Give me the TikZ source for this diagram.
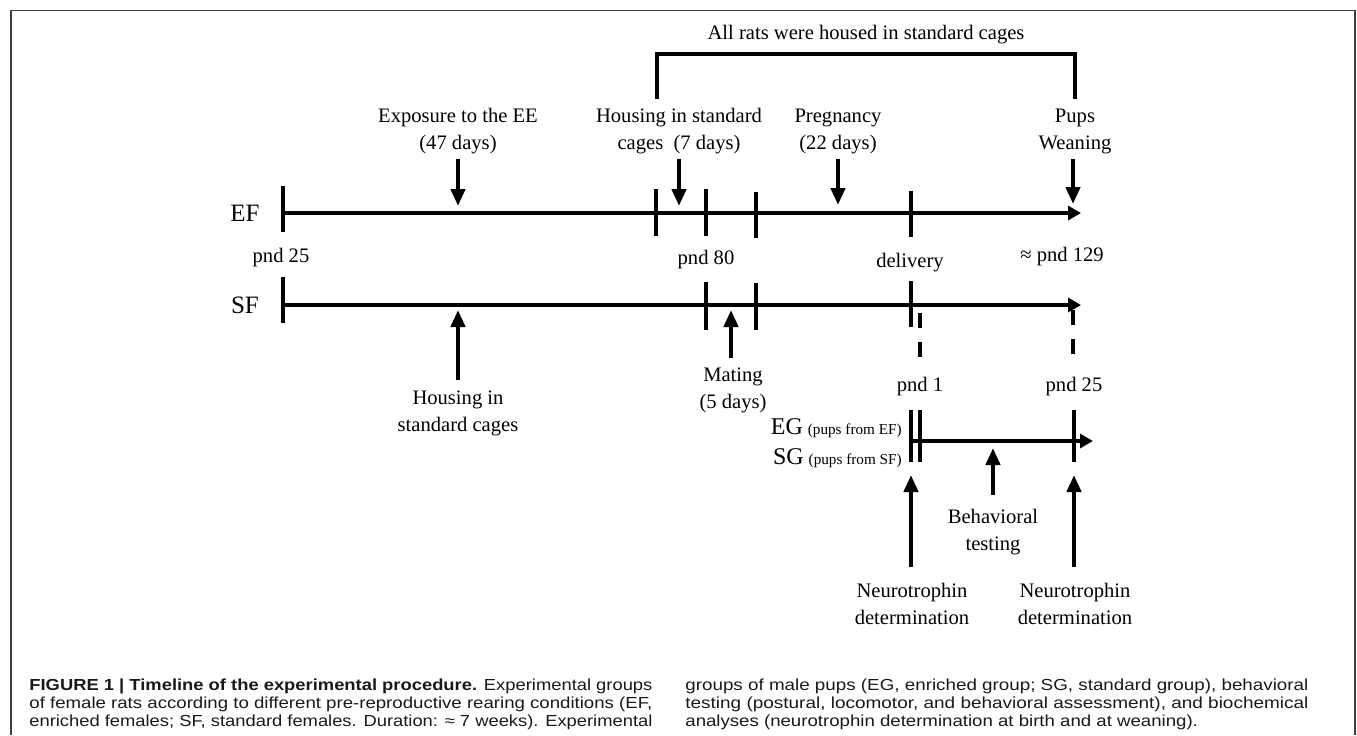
\documentclass[tikz,border=0pt]{standalone}
\usepackage{fontspec}
\usepackage{graphicx}
\setmainfont{Liberation Serif}
\newfontfamily\capfont{Liberation Sans}
\usetikzlibrary{arrows.meta}
\newlength\capwidthref
\newcommand\capsize{\capfont\fontsize{8}{9}\selectfont}
\begin{document}
\settowidth\capwidthref{\capsize of female rats according to different pre-reproductive rearing conditions (EF,}
\begin{tikzpicture}[x=0.5pt,y=-0.5pt,
  lbl/.style={font=\fontsize{10.3}{13.5}\selectfont, align=center, inner sep=0},
  biglbl/.style={font=\fontsize{12.5}{13.5}\selectfont, inner sep=0},
  tl/.style={line width=2.4pt, -{Triangle[length=6.5pt,width=7pt]}},
  tk/.style={line width=2.4pt},
  ev/.style={line width=2.1pt, -{Triangle[length=8.5pt,width=7pt]}},
  dsh/.style={line width=2.4pt, dash pattern=on 7.5pt off 7pt},
  frm/.style={draw=black!75, line width=0.8pt},
  captxt/.style={font=\capsize, inner sep=0, anchor=base west, text=black!90}]
\pgfmathsetmacro\capsc{311.5pt/\capwidthref}
\useasboundingbox (0,0) rectangle (1357,735);
% frame
\coordinate (fl) at (11,735); \coordinate (ftl) at (11,10.5);
\coordinate (ftr) at (1355,10.5); \coordinate (fr) at (1355,735);
\draw[frm] (fl) -- (ftl) -- (ftr) -- (fr);
% bracket
\coordinate (bl) at (657,99); \coordinate (btl) at (657,54);
\coordinate (btr) at (1075,54); \coordinate (br) at (1075,99);
\draw[line width=2.1pt] (bl) -- (btl) -- (btr) -- (br);
\node[lbl] (allrats) at (866,35) {All rats were housed in standard cages};
% labels above EF
\node[lbl] (expo) at (458,131.5) {Exposure to the EE\\(47 days)};
\node[lbl] (hous) at (679,131.5) {Housing in standard\\cages\ \ (7 days)};
\node[lbl] (preg) at (838,131.5) {Pregnancy\\(22 days)};
\node[lbl] (pups) at (1075,131.5) {Pups\\Weaning};
\coordinate (a1s) at (458,159); \coordinate (a1e) at (458,206);
\coordinate (a2s) at (679,159); \coordinate (a2e) at (679,206);
\coordinate (a3s) at (838,159); \coordinate (a3e) at (838,205);
\coordinate (a4s) at (1073,159); \coordinate (a4e) at (1073,204);
\draw[ev] (a1s) -- (a1e);
\draw[ev] (a2s) -- (a2e);
\draw[ev] (a3s) -- (a3e);
\draw[ev] (a4s) -- (a4e);
% EF timeline
\node[biglbl] (EF) at (245,213) {EF};
\coordinate (efs) at (283,213); \coordinate (efe) at (1081,213);
\draw[tl] (efs) -- (efe);
\coordinate (e1t) at (283,186); \coordinate (e1b) at (283,232);
\coordinate (e2t) at (656,189); \coordinate (e2b) at (656,236);
\coordinate (e3t) at (706,189); \coordinate (e3b) at (706,236);
\coordinate (e4t) at (756,192); \coordinate (e4b) at (756,238);
\coordinate (e5t) at (911,191); \coordinate (e5b) at (911,237);
\foreach \n in {1,...,5} {\draw[tk] (e\n t) -- (e\n b);}
% middle labels
\node[lbl] (p25) at (281,258) {pnd 25};
\node[lbl] (p80) at (706,260) {pnd 80};
\node[lbl] (deliv) at (910,263) {delivery};
\node[lbl] (p129) at (1062,257) {≈ pnd 129};
% SF timeline
\node[biglbl] (SF) at (245,305) {SF};
\coordinate (sfs) at (283,305); \coordinate (sfe) at (1081,305);
\draw[tl] (sfs) -- (sfe);
\coordinate (s1t) at (283,277); \coordinate (s1b) at (283,323);
\coordinate (s2t) at (706,282); \coordinate (s2b) at (706,330);
\coordinate (s3t) at (756,283); \coordinate (s3b) at (756,330);
\coordinate (s4t) at (911,281); \coordinate (s4b) at (911,327);
\foreach \n in {1,...,4} {\draw[tk] (s\n t) -- (s\n b);}
% labels below SF
\coordinate (b1s) at (458,380); \coordinate (b1e) at (458,310);
\coordinate (b2s) at (731,358); \coordinate (b2e) at (731,310);
\draw[ev] (b1s) -- (b1e);
\draw[ev] (b2s) -- (b2e);
\node[lbl] (housSF) at (458,413) {Housing in\\standard cages};
\node[lbl] (mating) at (733,390) {Mating\\(5 days)};
% dashed links
\coordinate (d1s) at (920,313); \coordinate (d1e) at (920,358);
\coordinate (d2s) at (1073,310); \coordinate (d2e) at (1073,356);
\draw[dsh] (d1s) -- (d1e);
\draw[dsh] (d2s) -- (d2e);
\node[lbl] (pnd1) at (920,387) {pnd 1};
\node[lbl] (pnd25b) at (1074,387) {pnd 25};
% pups timeline
\node[inner sep=0, anchor=east] (EG) at (902,428) {{\fontsize{12}{12}\selectfont EG} {\fontsize{7.6}{9}\selectfont (pups from EF)}};
\node[inner sep=0, anchor=east] (SG) at (902,458) {{\fontsize{12}{12}\selectfont SG} {\fontsize{7.6}{9}\selectfont (pups from SF)}};
\coordinate (pls) at (911,441); \coordinate (ple) at (1093,441);
\draw[tl] (pls) -- (ple);
\coordinate (g1t) at (911,410); \coordinate (g1b) at (911,462);
\coordinate (g2t) at (920,410); \coordinate (g2b) at (920,462);
\coordinate (g3t) at (1074,410); \coordinate (g3b) at (1074,462);
\foreach \n in {1,...,3} {\draw[tk] (g\n t) -- (g\n b);}
% arrows below pups
\coordinate (c1s) at (993,495); \coordinate (c1e) at (993,448);
\coordinate (c2s) at (911,567); \coordinate (c2e) at (911,475);
\coordinate (c3s) at (1074,567); \coordinate (c3e) at (1074,475);
\draw[ev] (c1s) -- (c1e);
\draw[ev] (c2s) -- (c2e);
\draw[ev] (c3s) -- (c3e);
\node[lbl] (behav) at (993,532) {Behavioral\\testing};
\node[lbl] (neu1) at (912,603.5) {Neurotrophin\\determination};
\node[lbl] (neu2) at (1075,603.5) {Neurotrophin\\determination};
% caption
\node[captxt] (cl1) at (29,690) {\resizebox{311.5pt}{\height}{\textbf{FIGURE 1 | Timeline of the experimental procedure.} Experimental groups}};
\node[captxt] (cl2) at (29,708) {\resizebox{311.5pt}{\height}{of female rats according to different pre-reproductive rearing conditions (EF,}};
\node[captxt] (cl3) at (29,726) {\resizebox{311.5pt}{\height}{enriched females; SF, standard females. Duration: ≈ 7 weeks). Experimental}};
\node[captxt] (cr1) at (685,690) {\resizebox{311.5pt}{\height}{groups of male pups (EG, enriched group; SG, standard group), behavioral}};
\node[captxt] (cr2) at (685,708) {\resizebox{311.5pt}{\height}{testing (postural, locomotor, and behavioral assessment), and biochemical}};
\node[captxt] (cr3) at (685,726) {\scalebox{\capsc}[1]{analyses (neurotrophin determination at birth and at weaning).}};
\end{tikzpicture}
\end{document}
